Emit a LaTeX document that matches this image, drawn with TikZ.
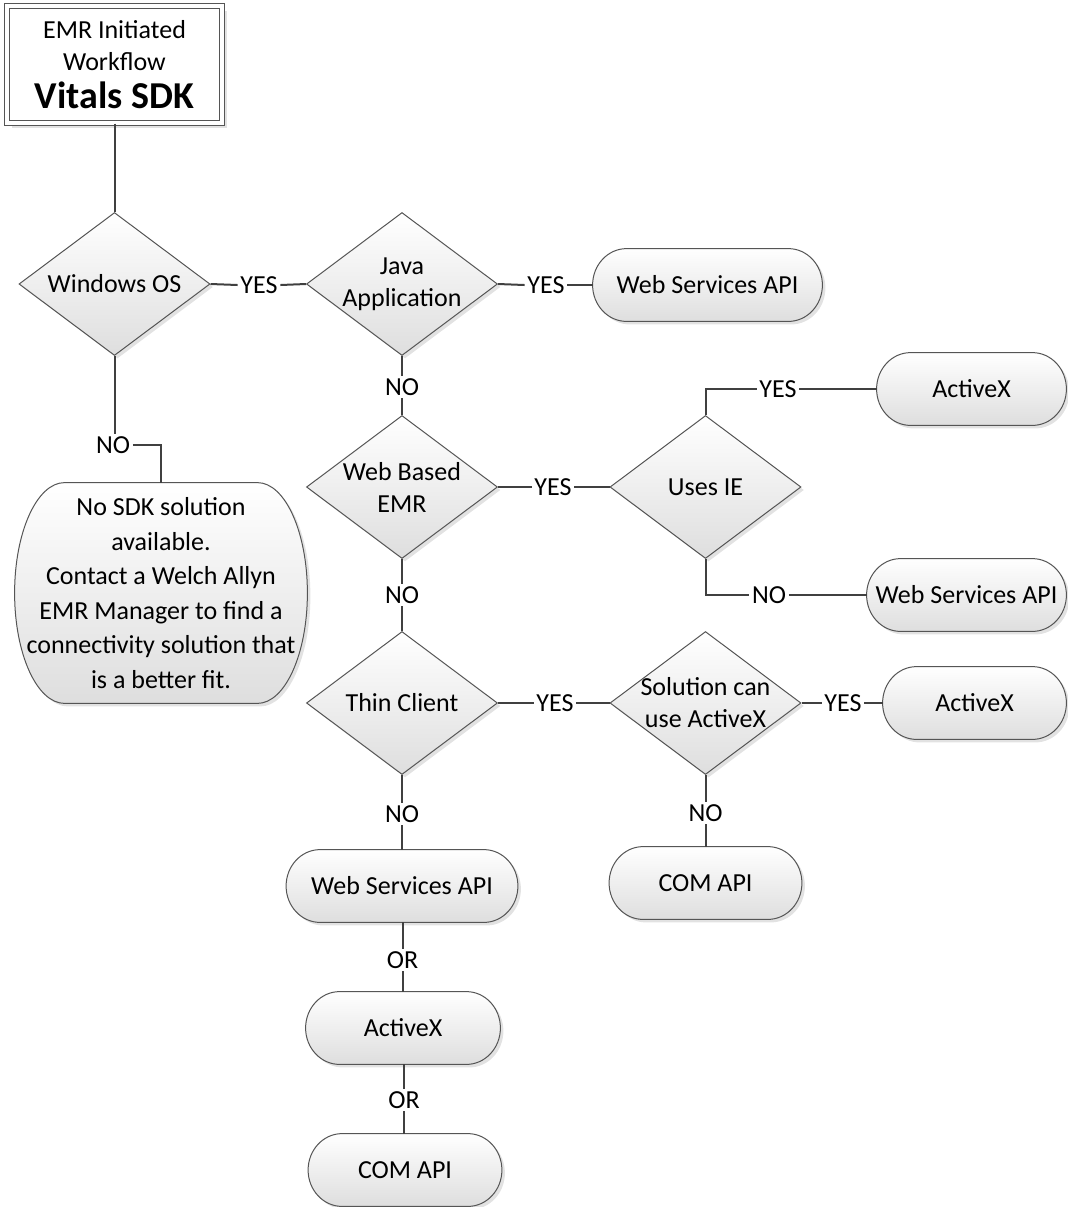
\documentclass[tikz,border=0pt]{standalone}
\usepackage{fontspec}
\setmainfont{Carlito}
\usetikzlibrary{shapes.geometric,shadows,backgrounds,calc}
\definecolor{lineclr}{HTML}{404040}
\definecolor{edgeclr}{HTML}{555555}
\definecolor{shadeclr}{HTML}{DEDEDE}
\definecolor{shadowclr}{HTML}{E2E2E2}
\newcommand\termdraw[2]{%
  \path[fill=shadowclr] let \p1=(#1.north west), \p2=(#1.south east), \n1={(\y1-\y2)/2} in
    (\x1+#2+1.5pt,\y1-1.5pt) -- (\x2-#2+1.5pt,\y1-1.5pt)
    arc[start angle=90,end angle=-90,x radius=#2,y radius=\n1]
    -- (\x1+#2+1.5pt,\y2-1.5pt)
    arc[start angle=270,end angle=90,x radius=#2,y radius=\n1] -- cycle;
  \path[draw=edgeclr,line width=0.5pt,top color=white,bottom color=shadeclr]
    let \p1=(#1.north west), \p2=(#1.south east), \n1={(\y1-\y2)/2} in
    (\x1+#2,\y1) -- (\x2-#2,\y1)
    arc[start angle=90,end angle=-90,x radius=#2,y radius=\n1]
    -- (\x1+#2,\y2)
    arc[start angle=270,end angle=90,x radius=#2,y radius=\n1] -- cycle;
}
\begin{document}
\begin{tikzpicture}[x=0.5pt,y=-0.5pt,
  every node/.style={font=\fontsize{13}{16}\selectfont},
  dia/.style={shape=diamond, draw=edgeclr, line width=0.5pt, top color=white,
    bottom color=shadeclr, minimum width=95.5pt, minimum height=71.5pt, inner sep=0pt,
    general shadow={shadow xshift=1.5pt, shadow yshift=-1.5pt, fill=shadowclr}},
  dtext/.style={align=center},
  term/.style={shape=rectangle, inner sep=0pt, minimum height=36pt, align=center},
  topbox/.style={shape=rectangle, draw=edgeclr, line width=0.5pt, double=white,
    double distance=1.6pt, fill=white, minimum width=107.5pt, minimum height=58.5pt,
    align=center, inner sep=0pt,
    general shadow={shadow xshift=2.5pt, shadow yshift=-2.5pt, fill=shadowclr}},
  lbl/.style={inner sep=1.2pt},
  conn/.style={draw=lineclr, line width=1pt},
]
\useasboundingbox (0,0) rectangle (1068,1207);

% title box
\node[topbox] (top) at (114.5,64.5) {EMR Initiated\\Workflow\\[3pt]{\fontsize{19}{20}\selectfont\bfseries Vitals SDK}};

% decisions
\node[dia, label={[dtext]center:Windows OS}] (win) at (114.5,284) {};
\node[dia, label={[dtext]center:Java\\Application}] (java) at (402,284) {};
\node[dia, label={[dtext]center:Web Based\\EMR}] (web) at (402,487) {};
\node[dia, label={[dtext]center:Uses IE}] (ie) at (705.5,487) {};
\node[dia, label={[dtext]center:Thin Client}] (thin) at (402,703) {};
\node[dia, label={[dtext]center:Solution can\\use ActiveX}] (sol) at (705.5,703) {};

% terminals
\node[term, minimum width=114.5pt] (wsa1) at (707.5,285) {Web Services API};
\node[term, minimum width=94.5pt] (ax1) at (971.5,389) {ActiveX};
\node[term, minimum width=99.5pt] (wsa2) at (966.5,595) {Web Services API};
\node[term, minimum width=91.5pt] (ax2) at (974.5,703) {ActiveX};
\node[term, minimum width=96pt] (com1) at (705.5,883) {COM API};
\node[term, minimum width=115.5pt] (wsa3) at (402,886) {Web Services API};
\node[term, minimum width=97pt] (ax3) at (403,1028) {ActiveX};
\node[term, minimum width=96.5pt] (com2) at (405,1170) {COM API};
\node[term, minimum width=146pt, minimum height=110pt,
  font=\fontsize{13}{17.3}\selectfont] (nosdk) at (161,593)
  {No SDK solution\\available.\\Contact a Welch Allyn\\EMR Manager to find a\\connectivity solution that\\is a better fit.};

\begin{pgfonlayer}{background}
  \termdraw{wsa1}{17pt}
  \termdraw{ax1}{17pt}
  \termdraw{wsa2}{17pt}
  \termdraw{ax2}{17pt}
  \termdraw{com1}{17pt}
  \termdraw{wsa3}{17pt}
  \termdraw{ax3}{17pt}
  \termdraw{com2}{17pt}
  \termdraw{nosdk}{25pt}
\end{pgfonlayer}

% labels
\node[lbl] (yes1) at (259,285) {YES};
\node[lbl] (yes2) at (546,285) {YES};
\node[lbl] (no2) at (402,387) {NO};
\node[lbl] (yes3) at (553,487) {YES};
\node[lbl] (yes4) at (778,389) {YES};
\node[lbl] (no3) at (769,595) {NO};
\node[lbl] (no4) at (402,595) {NO};
\node[lbl] (yes5) at (555,703) {YES};
\node[lbl] (yes6) at (843,703) {YES};
\node[lbl] (no5) at (705.5,813) {NO};
\node[lbl] (no6) at (402,814) {NO};
\node[lbl] (or1) at (402.5,960) {OR};
\node[lbl] (or2) at (404,1100) {OR};
\node[lbl] (no1) at (113,445) {NO};

% connectors
\draw[conn] (top.south) -- (top.south |- win.north);
\draw[conn] (win.east) -- (yes1.west);
\draw[conn] (yes1.east) -- (java.west);
\draw[conn] (java.east) -- (yes2.west);
\draw[conn] (yes2.east) -- (wsa1.west);
\draw[conn] (java.south) -- (no2.north);
\draw[conn] (no2.south) -- (web.north);
\draw[conn] (web.east) -- (yes3.west);
\draw[conn] (yes3.east) -- (ie.west);
\draw[conn] (ie.north) |- (yes4.west);
\draw[conn] (yes4.east) -- (ax1.west);
\draw[conn] (ie.south) |- (no3.west);
\draw[conn] (no3.east) -- (wsa2.west);
\draw[conn] (web.south) -- (no4.north);
\draw[conn] (no4.south) -- (thin.north);
\draw[conn] (thin.east) -- (yes5.west);
\draw[conn] (yes5.east) -- (sol.west);
\draw[conn] (sol.east) -- (yes6.west);
\draw[conn] (yes6.east) -- (ax2.west);
\draw[conn] (sol.south) -- (no5.north);
\draw[conn] (no5.south) -- (com1.north);
\draw[conn] (thin.south) -- (no6.north);
\draw[conn] (no6.south) -- (wsa3.north);
\draw[conn] (or1.north |- wsa3.south) -- (or1.north);
\draw[conn] (or1.south) -- (or1.south |- ax3.north);
\draw[conn] (or2.north |- ax3.south) -- (or2.north);
\draw[conn] (or2.south) -- (or2.south |- com2.north);
\draw[conn] (win.south) -- (win.south |- no1.north);
\draw[conn] (no1.east) -| (nosdk.north);
\end{tikzpicture}
\end{document}
